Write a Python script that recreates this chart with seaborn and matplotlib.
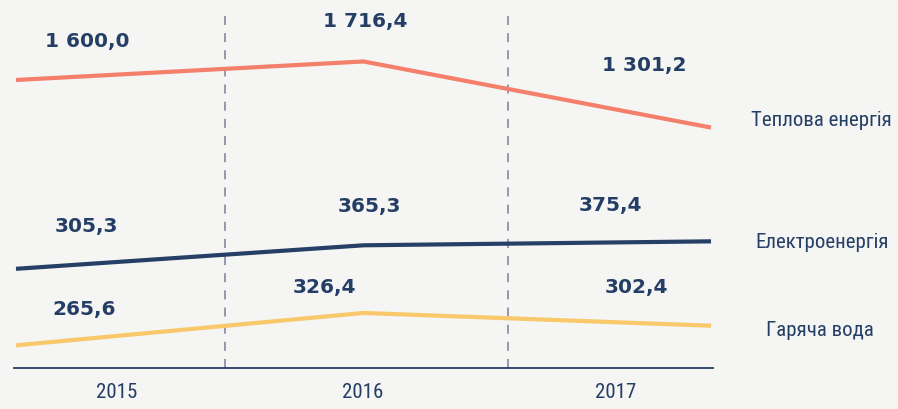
import matplotlib
matplotlib.use("Agg")
import matplotlib.pyplot as plt
import seaborn as sns
import pandas as pd
from matplotlib import font_manager
from matplotlib.font_manager import FontProperties

# ---------------- data ----------------
years = ["2015", "2016", "2017"]
heat = [1600.0, 1716.4, 1301.2]
power = [305.3, 365.3, 375.4]
water = [265.6, 326.4, 302.4]
series_names = ["Теплова енергія", "Електроенергія", "Гаряча вода"]

# ---------------- style ----------------
W, H = 898, 409
BG = "#f5f5f3"
NAVY = "#253e65"
COLORS = ["#f47f6b", "#263f66", "#f8c86a"]
# each series drawn on its own value scale (independent y-limits)
YLIMS = [(-209.1, 2102.5), (52.3, 991.0), (223.0, 914.3)]

sns.set_theme(style="white")
plt.rcParams["font.family"] = ["DejaVu Sans"]

# static regular condensed font for category / series labels
cond_path = None
for f in font_manager.fontManager.ttflist:
    if f.fname.endswith("RobotoCondensed-Regular.ttf"):
        cond_path = f.fname
        break
if cond_path is None:
    for f in font_manager.fontManager.ttflist:
        if f.fname.endswith("FiraSansCondensed-Regular.ttf"):
            cond_path = f.fname
            break
if cond_path:
    LABEL_FP = FontProperties(fname=cond_path, size=15)
else:
    LABEL_FP = FontProperties(family="DejaVu Sans", stretch="condensed", size=13)
VALUE_FP = FontProperties(family="DejaVu Sans", weight="bold", size=14.5)

fig = plt.figure(figsize=(W / 100, H / 100), dpi=100, facecolor=BG)

def px(x, y):
    return x / W, 1 - y / H

ax_rect = [14 / W, (H - 368) / H, (713 - 14) / W, 368 / H]
ax = fig.add_axes(ax_rect)
ax.set_facecolor("none")
pad = 2 / 347.5
ax.set_xlim(-pad, 2 + pad)
ax.set_ylim(0, 1)
for s in ["top", "left", "right"]:
    ax.spines[s].set_visible(False)
ax.spines["bottom"].set_color(NAVY)
ax.spines["bottom"].set_linewidth(1.3)
ax.set_xticks([])
ax.set_yticks([])

# separators (layout)
for xp in [225, 508]:
    xd = (xp - 16) / 347.5
    ax.axvline(xd, ymin=0, ymax=(368 - 14) / 368, color="#8f8fa8",
               lw=1.3, dashes=(5, 4.5), zorder=1)

series = [heat, power, water]
label_pos = [
    [(87, 42), (365, 21), (644, 65)],
    [(86, 227), (369, 207), (610, 206)],
    [(84, 310), (324, 288), (636, 288)],
]
name_pos = [(821, 120), (822, 243), (820, 331)]

for i, vals in enumerate(series):
    axi = fig.add_axes(ax_rect, sharex=ax)
    axi.set_facecolor("none")
    df = pd.DataFrame({"x": list(range(len(years))), "v": vals})
    sns.lineplot(data=df, x="x", y="v", ax=axi, color=COLORS[i], lw=3,
                 sort=False, solid_capstyle="butt")
    axi.set_xlim(-pad, 2 + pad)
    axi.set_ylim(*YLIMS[i])
    axi.set_axis_off()
    for v, (lx, ly) in zip(vals, label_pos[i]):
        txt = f"{v:,.1f}".replace(",", " ").replace(".", ",")
        fx, fy = px(lx, ly)
        fig.text(fx, fy, txt, ha="center", va="center", color=NAVY,
                 fontproperties=VALUE_FP)
    fx, fy = px(*name_pos[i])
    fig.text(fx, fy, series_names[i], ha="center", va="center", color=NAVY,
             fontproperties=LABEL_FP)

for yr, xp in zip(years, [117, 363, 616]):
    fx, fy = px(xp, 393)
    fig.text(fx, fy, yr, ha="center", va="center", color=NAVY,
             fontproperties=LABEL_FP)

fig.savefig("out.png", dpi=100, facecolor=BG)
